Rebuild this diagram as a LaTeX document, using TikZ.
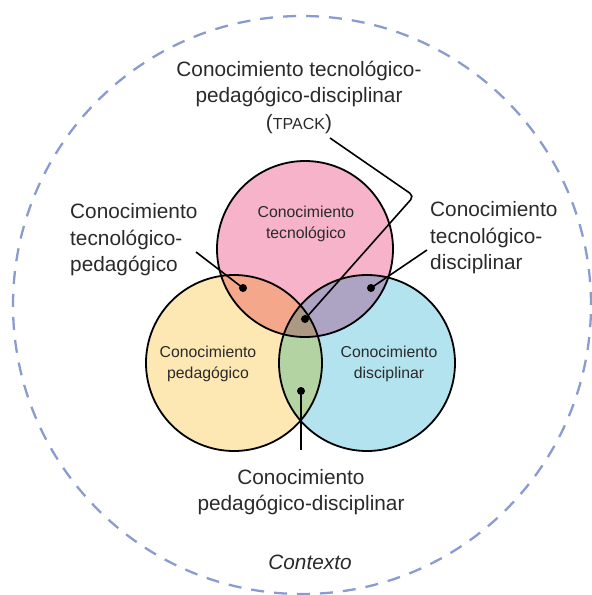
\documentclass[tikz,border=0pt]{standalone}
\usepackage{fontspec}
\setmainfont{Liberation Sans}

\definecolor{tecfill}{HTML}{F7B3CA}
\definecolor{pedfill}{HTML}{FDE8B3}
\definecolor{disfill}{HTML}{B3E3EE}
\definecolor{tpfill}{HTML}{F5A78B}
\definecolor{tdfill}{HTML}{ADA3C3}
\definecolor{pdfill}{HTML}{B4D3A3}
\definecolor{tpdfill}{HTML}{AD9884}
\definecolor{ctxline}{HTML}{8C9AD2}
\definecolor{txt}{HTML}{2A2A2A}

\begin{document}
\begin{tikzpicture}[x=1pt,y=-1pt,
  big/.style={font=\fontsize{20.8}{26.5}\selectfont, text=txt, inner sep=0pt},
  small/.style={font=\fontsize{15.8}{21}\selectfont, text=txt, align=center, inner sep=0pt},
  ring/.style={draw=black, line width=1.8pt},
  pin/.style={draw=black, line width=1.6pt},
  dot/.style={circle, fill=black, inner sep=0pt, minimum size=8pt}]
\useasboundingbox (0,0) rectangle (592,595);

% contexto
\draw [ctxline, line width=2.3pt, dash pattern=on 13pt off 10pt] (302,305) circle (289pt);

% centros de los circulos
\coordinate (T) at (305,249);
\coordinate (P) at (234,363);
\coordinate (D) at (367,363);

% rellenos
\fill [tecfill] (T) circle (88pt);
\fill [pedfill] (P) circle (88pt);
\fill [disfill] (D) circle (88pt);
\begin{scope}
\clip (T) circle (88pt);
\fill [tpfill] (P) circle (88pt);
\fill [tdfill] (D) circle (88pt);
\end{scope}
\begin{scope}
\clip (P) circle (88pt);
\fill [pdfill] (D) circle (88pt);
\end{scope}
\begin{scope}
\clip (T) circle (88pt);
\clip (P) circle (88pt);
\fill [tpdfill] (D) circle (88pt);
\end{scope}

% bordes
\draw [ring] (T) circle (88pt);
\draw [ring] (P) circle (88pt);
\draw [ring] (D) circle (88pt);

% textos dentro
\node [small] (tk) at (306,224) {Conocimiento\\tecnológico};
\node [small] (pk) at (208,364) {Conocimiento\\pedagógico};
\node [small] (ck) at (389,364) {Conocimiento\\disciplinar};

% textos fuera
\node [big, align=center] (tpack) at (299,97) {Conocimiento tecnológico-\\pedagógico-disciplinar\\({\fontsize{16}{18}\selectfont TPACK})};
\node [big, align=left, anchor=west] (tpk) at (70,240) {Conocimiento\\tecnológico-\\pedagógico};
\node [big, align=left, anchor=west] (tck) at (430,238) {Conocimiento\\tecnológico-\\disciplinar};
\node [big, align=center] (pck) at (301,492) {Conocimiento\\pedagógico-disciplinar};
\node [big, font=\fontsize{20.8}{24}\selectfont\itshape] (ctx) at (310,562) {Contexto};

% puntos
\node [dot] (tpdot) at (243,288) {};
\node [dot] (tddot) at (371,288) {};
\node [dot] (cdot) at (305,319) {};
\node [dot] (pddot) at (301,391) {};

% extremos de las lineas
\coordinate (tpend) at (196,252);
\coordinate (tdend) at (427,250);
\coordinate (cbend) at (414,196);
\coordinate (cend) at (330,138);
\coordinate (pdend) at (301,450);

\draw [pin] (tpdot.center) -- (tpend);
\draw [pin] (tddot.center) -- (tdend);
\draw [pin, rounded corners=5pt] (cdot.center) -- (cbend) -- (cend);
\draw [pin] (pddot.center) -- (pdend);

\end{tikzpicture}
\end{document}
